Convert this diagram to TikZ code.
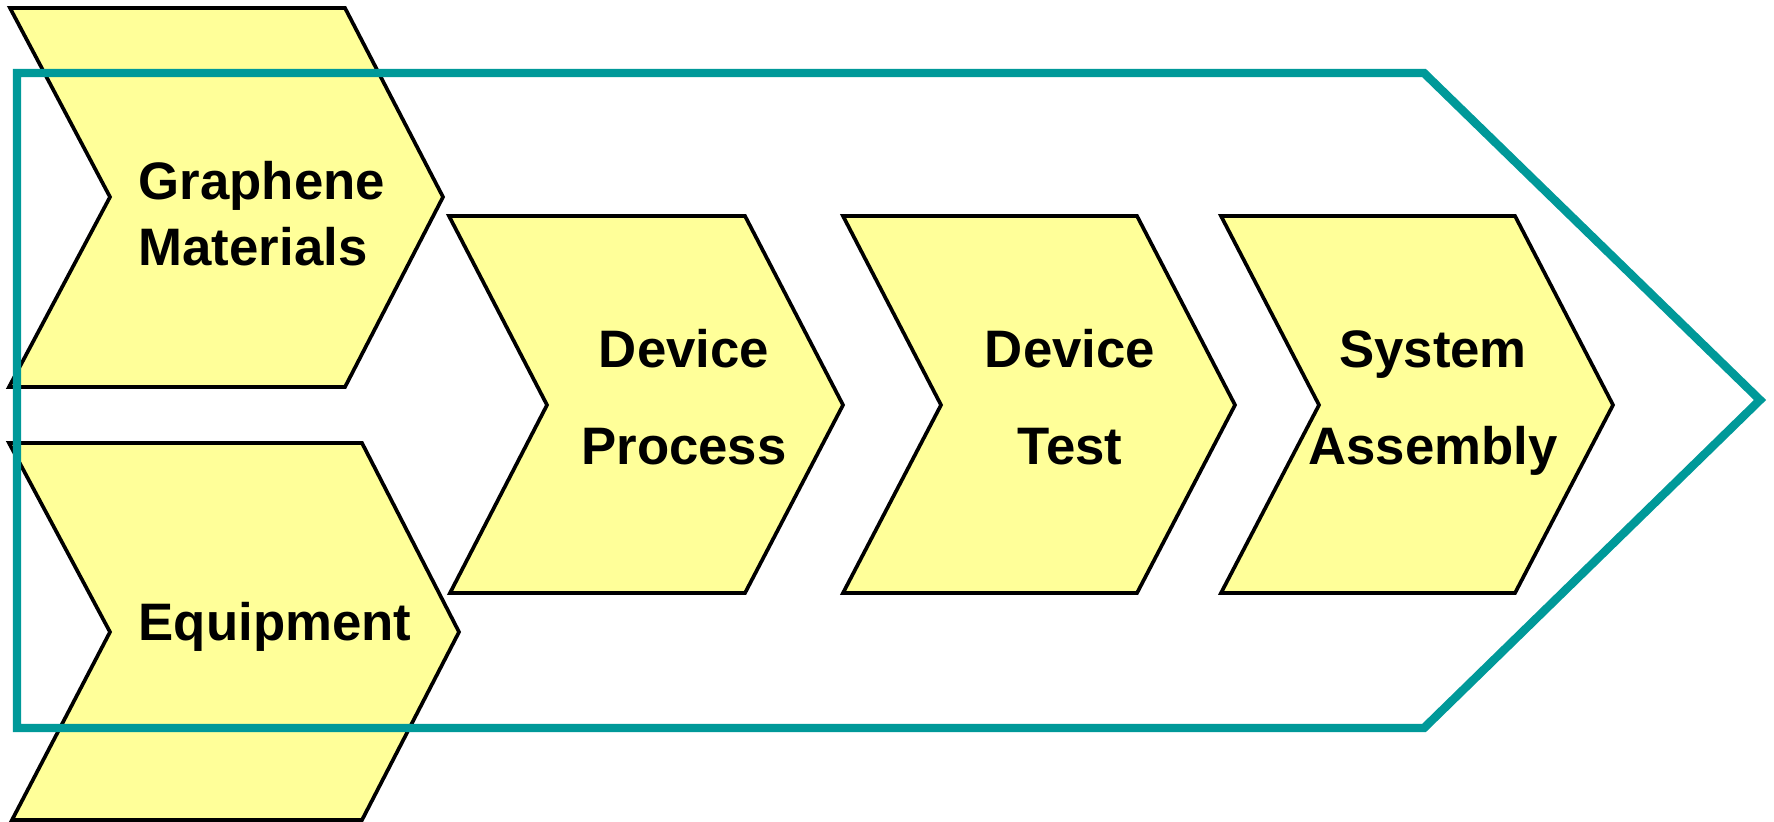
\documentclass[tikz,border=0pt]{standalone}
\usepackage{fontspec}
\setmainfont{Liberation Sans}
\definecolor{frameteal}{HTML}{009999}
\definecolor{chevyellow}{HTML}{FFFF99}
\begin{document}
\begin{tikzpicture}[x=0.01cm,y=-0.01cm,
  chevron/.style={fill=chevyellow,draw=black,line width=1.05pt,line join=miter},
  outerframe/.style={draw=frameteal,line width=2.4pt,line join=miter},
  lbl/.style={font=\fontsize{15pt}{18pt}\selectfont\bfseries,anchor=base,inner sep=0pt}]
\useasboundingbox (0,0) rectangle (1774,822);
% chevrons
\path[chevron] (10,8) -- (345,8) -- (443,197) -- (345,387) -- (9,387) -- (110,197) -- cycle;
\path[chevron] (9,443) -- (362,443) -- (459,632) -- (362,820) -- (12,820) -- (110,632) -- cycle;
\path[chevron] (449,216) -- (745,216) -- (843,405) -- (745,593) -- (450,593) -- (547,405) -- cycle;
\path[chevron] (843,216) -- (1137,216) -- (1235,405) -- (1137,593) -- (843,593) -- (941,405) -- cycle;
\path[chevron] (1221,216) -- (1515,216) -- (1613,405) -- (1515,593) -- (1221,593) -- (1319,405) -- cycle;
% frame
\path[outerframe] (17,73) -- (1424,73) -- (1760,400) -- (1424,728) -- (17,728) -- cycle;
% labels
\node[lbl,anchor=base west] (g1) at (138,200) {Graphene};
\node[lbl,anchor=base west] (g2) at (138,266) {Materials};
\node[lbl] (eq) at (275,640) {Equipment};
\node[lbl] (dp1) at (684,368) {Device};
\node[lbl] (dp2) at (684,465) {Process};
\node[lbl] (dt1) at (1070,368) {Device};
\node[lbl] (dt2) at (1070,465) {Test};
\node[lbl] (sa1) at (1433,368) {System};
\node[lbl] (sa2) at (1433,465) {Assembly};
\end{tikzpicture}
\end{document}
